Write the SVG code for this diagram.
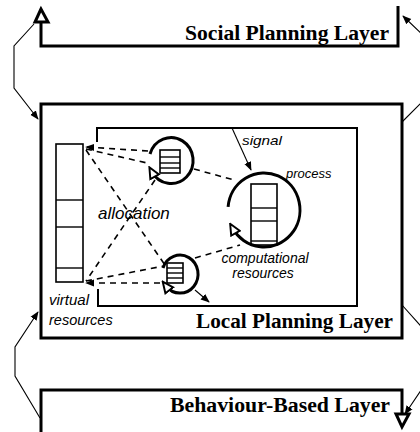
<svg xmlns="http://www.w3.org/2000/svg" width="420" height="432" viewBox="0 0 420 432">
  <style>
    .layer { fill: none; stroke: #000; stroke-width: 3; }
    .inner { fill: none; stroke: #000; stroke-width: 2; }
    .stack { fill: #fff; stroke: #000; stroke-width: 1.6; }
    .div { stroke: #000; stroke-width: 1.4; }
    .loop { fill: none; stroke: #000; stroke-width: 3; }
    .thin { fill: none; stroke: #000; stroke-width: 1.1; }
    .dash { fill: none; stroke: #000; stroke-width: 1.6; stroke-dasharray: 6 5; }
    .title { font-family: "Liberation Serif", "Times New Roman", serif; font-weight: bold; font-size: 20px; fill: #000; }
    .it { font-family: "Liberation Sans", Arial, sans-serif; font-style: italic; fill: #000; }
    .tri { fill: #fff; stroke: #000; stroke-width: 3; stroke-linejoin: miter; }
  </style>
  <defs>
    <marker id="head" viewBox="0 0 10 10" refX="9" refY="5" markerWidth="9" markerHeight="9" markerUnits="userSpaceOnUse" orient="auto">
      <path d="M0,1 L10,5 L0,9 Z" fill="#000"/>
    </marker>
    <marker id="open" viewBox="0 0 12 12" refX="6" refY="6" markerWidth="13" markerHeight="13" markerUnits="userSpaceOnUse" orient="auto">
      <path d="M11,6 L1,1.5 L1,10.5 Z" fill="#fff" stroke="#000" stroke-width="1.8"/>
    </marker>
  </defs>

  <!-- Social planning layer -->
  <g id="social-layer">
    <path class="layer" d="M41,23 V46 H398 V6"/>
    <polygon class="tri" points="41,9 35,22 48,22"/>
    <text class="title" x="389" y="40" text-anchor="end" textLength="204" lengthAdjust="spacingAndGlyphs">Social Planning Layer</text>
  </g>

  <!-- Local planning layer -->
  <g id="local-layer">
    <rect class="layer" x="41" y="104" width="361" height="234"/>
    <path class="inner" d="M97,142 V128 H357 V306 H98 V289"/>
    <text class="title" x="393" y="328" text-anchor="end" textLength="197" lengthAdjust="spacingAndGlyphs">Local Planning Layer</text>
  </g>

  <!-- Behaviour-based layer -->
  <g id="behaviour-layer">
    <path class="layer" d="M41,432 V390 H402 V414"/>
    <polygon class="tri" points="396,414 409,414 402,427"/>
    <text class="title" x="390" y="412" text-anchor="end" textLength="220" lengthAdjust="spacingAndGlyphs">Behaviour-Based Layer</text>
  </g>

  <!-- Virtual resources -->
  <g id="virtual-resources">
    <rect class="stack" x="56" y="144" width="27" height="138"/>
    <line class="div" x1="56" y1="200" x2="83" y2="200"/>
    <line class="div" x1="56" y1="227" x2="83" y2="227"/>
    <line class="div" x1="56" y1="268" x2="83" y2="268"/>
    <text class="it" x="49" y="305" font-size="15">virtual</text>
    <text class="it" x="49" y="325" font-size="14.5">resources</text>
  </g>

  <!-- Upper small process -->
  <g id="process-a">
    <rect class="stack" x="160" y="150" width="20" height="23"/>
    <line class="div" x1="160" y1="157" x2="180" y2="157"/>
    <line class="div" x1="160" y1="163" x2="180" y2="163"/>
    <line class="div" x1="160" y1="168" x2="180" y2="168"/>
    <path class="loop" d="M150,154 A22,23 0 1 1 152,172" marker-end="url(#open)"/>
  </g>

  <!-- Lower small process -->
  <g id="process-b">
    <rect class="stack" x="167" y="263" width="16" height="20"/>
    <line class="div" x1="167" y1="268" x2="183" y2="268"/>
    <line class="div" x1="167" y1="273" x2="183" y2="273"/>
    <line class="div" x1="167" y1="278" x2="183" y2="278"/>
    <path class="loop" d="M163,268 A18,19 0 1 1 166,286" marker-end="url(#open)"/>
  </g>

  <!-- Main process -->
  <g id="process-main">
    <rect class="stack" x="251" y="184" width="26" height="61"/>
    <line class="div" x1="251" y1="208" x2="277" y2="208"/>
    <line class="div" x1="251" y1="221" x2="277" y2="221"/>
    <line class="div" x1="251" y1="241" x2="277" y2="241"/>
    <path class="loop" d="M228.1,206.8 A36,37 0 1 1 232.8,228.5" marker-end="url(#open)"/>
    <text class="it" x="286" y="178" font-size="13">process</text>
    <text class="it" x="265" y="263" font-size="14" text-anchor="middle">computational</text>
    <text class="it" x="263" y="278" font-size="14" text-anchor="middle">resources</text>
  </g>

  <!-- Labels on the allocation and signal links -->
  <g id="link-labels">
    <text class="it" x="98" y="219" font-size="17">allocation</text>
    <text class="it" x="242" y="145" font-size="13" textLength="40" lengthAdjust="spacingAndGlyphs">signal</text>
  </g>

  <!-- Connectors -->
  <g id="connectors">
    <!-- between layers -->
    <path class="thin" d="M34,24 L14,46 V88 L38,119" marker-end="url(#head)"/>
    <path class="thin" d="M40,418 L15,376 V347 L38,312" marker-end="url(#head)"/>
    <path class="thin" d="M402,122 L428,96 V40 L403,16" marker-end="url(#head)"/>
    <path class="thin" d="M402,305 L428,334 V380 L405,414" marker-end="url(#head)"/>

    <!-- allocation of virtual resources -->
    <path class="dash" d="M148,151 L86,147" marker-end="url(#head)"/>
    <path class="dash" d="M86,149 L147,163"/>
    <path class="dash" d="M86,150 L167,268"/>
    <path class="dash" d="M155,180 L86,281"/>
    <path class="dash" d="M86,281 L164,266"/>
    <path class="dash" d="M160,283 L86,283" marker-end="url(#head)"/>

    <!-- to main process -->
    <path class="dash" d="M194,169 L234,180"/>
    <path class="dash" d="M195,258 L240,245"/>

    <!-- signal and output -->
    <path class="thin" d="M232,128 L251,170" marker-end="url(#head)"/>
    <path class="thin" d="M195,290 L209,302" stroke-width="1.4" marker-end="url(#head)"/>
  </g>
</svg>
